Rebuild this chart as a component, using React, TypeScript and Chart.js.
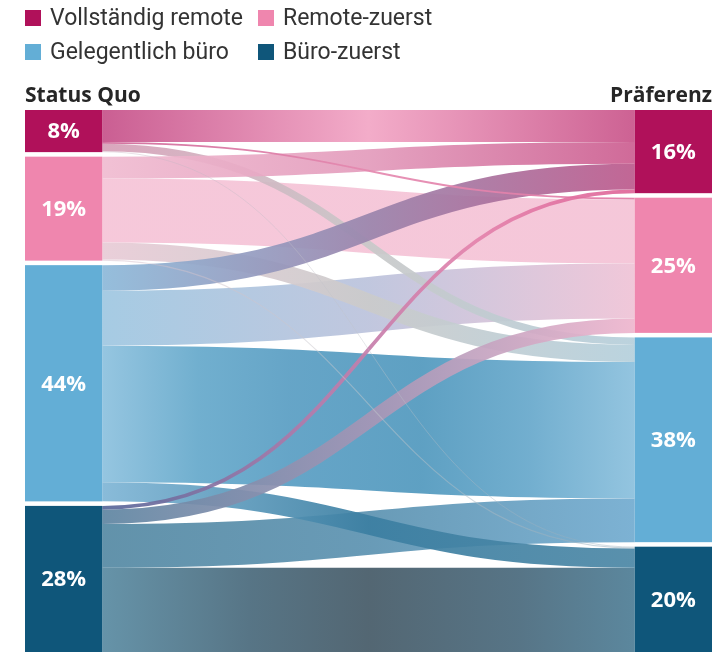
import { useEffect, useRef } from "react";
import { Chart, registerables } from "chart.js";

Chart.register(...registerables);

// ---- data ----
const categories = ["Vollständig remote", "Remote-zuerst", "Gelegentlich büro", "Büro-zuerst"];
const statusQuoLabels = ["8%", "19%", "44%", "28%"];
const praeferenzLabels = ["16%", "25%", "38%", "20%"];
// flows from each Status-Quo group to the preferred groups (VR, RZ, GB, BZ), in %
const flowVollstaendigRemote = [6.0, 0.35, 1.4, 0.15];
const flowRemoteZuerst = [4.1, 12.0, 3.2, 0.2];
const flowGelegentlichBuero = [4.8, 10.3, 25.6, 3.6];
const flowBueroZuerst = [0.7, 2.7, 8.2, 15.8];

// ---- styles ----
const nodeColors = ["#b0115a", "#ef86ae", "#63aed6", "#0f567a"];
type Stop = [number, string];
const linkStops: Record<string, Stop[]> = {
  "0-0": [[0, "#c6528a"], [0.5, "#f2a6c5"], [1, "#c9568b"]],
  "0-1": [[0, "#cf6898"], [0.5, "#e58ab0"], [1, "#e07aa6"]],
  "0-2": [[0, "#d7a0b8"], [0.5, "#c9c9c9"], [1, "#b6cfdb"]],
  "0-3": [[0, "#c8b0c0"], [0.5, "#bfc4ca"], [1, "#8fa8b8"]],
  "1-0": [[0, "#f0bcd1"], [0.5, "#e39cbc"], [1, "#cc5f91"]],
  "1-1": [[0, "#f5c4d7"], [1, "#f4c3d6"]],
  "1-2": [[0, "#e8cbd6"], [0.5, "#cbcbcb"], [1, "#b5d0dc"]],
  "1-3": [[0, "#d8c0cc"], [0.5, "#c4c8cc"], [1, "#8fa8b8"]],
  "2-0": [[0, "#8db9d9"], [0.5, "#9b86ad"], [1, "#bd5b8d"]],
  "2-1": [[0, "#9fc7e1"], [0.5, "#bcc3dc"], [1, "#efc3d6"]],
  "2-2": [[0, "#8dc1de"], [0.18, "#66a9cb"], [0.35, "#5a9ec3"], [0.6, "#5299be"], [0.8, "#67a8cb"], [1, "#8bc0dd"]],
  "2-3": [[0, "#80b6d6"], [0.5, "#3c7fa2"], [1, "#4d88a6"]],
  "3-0": [[0, "#56689a"], [0.4, "#b77cab"], [0.7, "#e484ad"], [1, "#df6699"]],
  "3-1": [[0, "#5f86a2"], [0.5, "#a596b6"], [1, "#eeb6ce"]],
  "3-2": [[0, "#568aa4"], [0.5, "#5d93b1"], [1, "#73acd0"]],
  "3-3": [[0, "#5a8ba2"], [0.28, "#4a6a7c"], [0.5, "#465b68"], [0.78, "#4a6a7d"], [1, "#4f7e96"]],
};
const drawOrder = [
  "1-1", "2-2", "3-3", "0-0",
  "2-1", "3-2", "0-2", "1-2", "2-3", "3-1", "1-0", "2-0",
  "0-1", "3-0", "0-3", "1-3",
];
const NODE_W = 0.1125;
const GAP = 0.85;

const flows = [flowVollstaendigRemote, flowRemoteZuerst, flowGelegentlichBuero, flowBueroZuerst];
const leftTotals = flows.map((r) => r.reduce((a, b) => a + b, 0));
const rightTotals = [0, 1, 2, 3].map((j) => flows.reduce((a, r) => a + r[j], 0));
const yMax = Math.max(
  leftTotals.reduce((a, b) => a + b, 0),
  rightTotals.reduce((a, b) => a + b, 0)
) + GAP * 3;

function starts(totals: number[]) {
  const s: number[] = [];
  let acc = 0;
  totals.forEach((t) => {
    s.push(acc);
    acc += t + GAP;
  });
  return s;
}

const sankeyPlugin = {
  id: "sankey",
  beforeDatasetsDraw(chart: any) {
    const ctx: CanvasRenderingContext2D = chart.ctx;
    const xs = chart.scales.x;
    const ys = chart.scales.y;
    const ls = starts(leftTotals);
    const rs = starts(rightTotals);

    const outOff = ls.slice();
    const inOff = rs.slice();
    const links: Record<string, { s0: number; s1: number; t0: number; t1: number }> = {};
    for (let i = 0; i < 4; i++) {
      for (let j = 0; j < 4; j++) {
        const v = flows[i][j];
        links[i + "-" + j] = { s0: outOff[i], s1: outOff[i] + v, t0: 0, t1: 0 };
        outOff[i] += v;
      }
    }
    for (let j = 0; j < 4; j++) {
      for (let i = 0; i < 4; i++) {
        const v = flows[i][j];
        const l = links[i + "-" + j];
        l.t0 = inOff[j];
        l.t1 = inOff[j] + v;
        inOff[j] += v;
      }
    }

    const x0 = xs.getPixelForValue(NODE_W);
    const x1 = xs.getPixelForValue(1 - NODE_W);
    const xm = (x0 + x1) / 2;

    ctx.save();
    ctx.lineCap = "butt";
    drawOrder.forEach((key) => {
      const l = links[key];
      const sy0 = ys.getPixelForValue(l.s0);
      const sy1 = ys.getPixelForValue(l.s1);
      const ty0 = ys.getPixelForValue(l.t0);
      const ty1 = ys.getPixelForValue(l.t1);
      const w = Math.max(0.6, sy1 - sy0);
      const sy = (sy0 + sy1) / 2;
      const ty = (ty0 + ty1) / 2;
      const g = ctx.createLinearGradient(x0, 0, x1, 0);
      linkStops[key].forEach(([o, c]) => g.addColorStop(o, c));
      ctx.globalAlpha = flows[+key[0]][+key[2]] < 0.3 ? 0.5 : 0.93;
      ctx.strokeStyle = g;
      ctx.lineWidth = w;
      ctx.beginPath();
      ctx.moveTo(x0, sy);
      ctx.bezierCurveTo(xm, sy, xm, ty, x1, ty);
      ctx.stroke();
    });
    ctx.globalAlpha = 1;

    const drawNode = (xa: number, xb: number, start: number, total: number, color: string, label: string) => {
      const px0 = xs.getPixelForValue(xa);
      const px1 = xs.getPixelForValue(xb);
      const py0 = ys.getPixelForValue(start);
      const py1 = ys.getPixelForValue(start + total);
      ctx.fillStyle = color;
      ctx.fillRect(px0, py0, px1 - px0, py1 - py0);
      ctx.fillStyle = "#ffffff";
      ctx.font = "bold 22px 'Open Sans'";
      ctx.textAlign = "center";
      ctx.textBaseline = "middle";
      ctx.fillText(label, (px0 + px1) / 2, (py0 + py1) / 2 + 1);
    };
    for (let i = 0; i < 4; i++) {
      drawNode(0, NODE_W, ls[i], leftTotals[i], nodeColors[i], statusQuoLabels[i]);
      drawNode(1 - NODE_W, 1, rs[i], rightTotals[i], nodeColors[i], praeferenzLabels[i]);
    }
    ctx.restore();
  },
};

const legendPos = [
  { left: 25, top: 9 },
  { left: 258, top: 9 },
  { left: 25, top: 43 },
  { left: 258, top: 43 },
];
const legendOrder = [0, 1, 2, 3];

export default function App() {
  const ref = useRef<HTMLCanvasElement>(null);
  useEffect(() => {
    document.body.style.margin = "0";
    const chart = new Chart(ref.current!, {
      type: "scatter",
      data: { datasets: [] },
      options: {
        animation: false,
        responsive: false,
        maintainAspectRatio: false,
        layout: { padding: { left: 25, right: 14, top: 110, bottom: 0 } },
        scales: {
          x: { type: "linear", min: 0, max: 1, display: false },
          y: { type: "linear", min: 0, max: yMax, reverse: true, display: false },
        },
        plugins: { legend: { display: false }, tooltip: { enabled: false } },
      },
      plugins: [sankeyPlugin],
    });
    return () => chart.destroy();
  }, []);

  return (
    <div style={{ position: "relative", width: 726, height: 652, overflow: "hidden", background: "#fff" }}>
      <canvas
        ref={ref}
        width={726}
        height={652}
        style={{ position: "absolute", left: 0, top: 0, width: 726, height: 652 }}
      />
      {legendOrder.map((i) => (
        <div key={i} style={{ position: "absolute", left: legendPos[i].left, top: legendPos[i].top, height: 17, display: "flex", alignItems: "center" }}>
          <div style={{ width: 16, height: 16, background: nodeColors[i] }} />
          <span
            style={{
              marginLeft: 9,
              fontFamily: "Roboto, sans-serif",
              fontSize: 23,
              lineHeight: "17px",
              color: "#333333",
              whiteSpace: "nowrap",
            }}
          >
            {categories[i]}
          </span>
        </div>
      ))}
      <div style={{ position: "absolute", left: 25, top: 81, fontFamily: "'Open Sans', sans-serif", fontWeight: 700, fontSize: 21, lineHeight: "26px", color: "#262626" }}>
        Status Quo
      </div>
      <div style={{ position: "absolute", right: 14, top: 81, fontFamily: "'Open Sans', sans-serif", fontWeight: 700, fontSize: 21, lineHeight: "26px", color: "#262626" }}>
        Präferenz
      </div>
    </div>
  );
}
